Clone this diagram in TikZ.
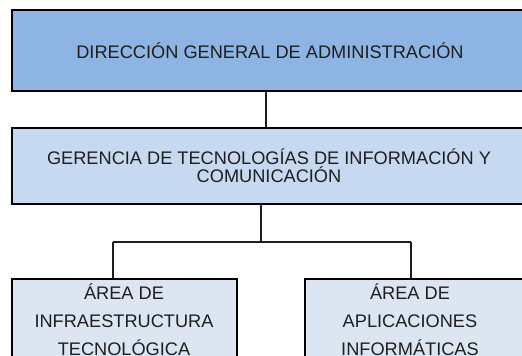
\documentclass[tikz,border=0pt]{standalone}
\usepackage{fontspec}
\setmainfont{Liberation Sans}
\definecolor{topfill}{RGB}{141,180,226}
\definecolor{midfill}{RGB}{198,217,240}
\definecolor{lowfill}{RGB}{220,230,242}
\definecolor{ink}{RGB}{30,30,30}
\tikzset{
  box/.style={draw=black, line width=2pt, rectangle, inner sep=0pt, text=ink},
  conn/.style={draw=ink, line width=1.6pt},
  txt/.style={align=center, text=ink, inner sep=0pt},
}
\begin{document}
\begin{tikzpicture}[x=1pt,y=-1pt]
\useasboundingbox (0,0) rectangle (522,356);
\clip (0,0) rectangle (522,356);
\node[box, fill=topfill, minimum width=516pt, minimum height=81pt,
      font=\fontsize{18.2}{21}\selectfont] (top) at (270,50.5)
      {DIRECCIÓN GENERAL DE ADMINISTRACIÓN};
\node[box, fill=midfill, minimum width=514pt, minimum height=76pt,
      align=center, font=\fontsize{18.2}{18.6}\selectfont] (mid) at (269,165.5)
      {GERENCIA DE TECNOLOGÍAS DE INFORMACIÓN Y\\COMUNICACIÓN};
\node[box, fill=lowfill, minimum width=225pt, minimum height=89pt] (left) at (124.5,323.5) {};
\node[box, fill=lowfill, minimum width=225pt, minimum height=89pt] (right) at (417.5,323.5) {};
\node[txt, font=\fontsize{18.2}{28.3}\selectfont] (lefttext) at (124,319.5)
      {ÁREA DE\\INFRAESTRUCTURA\\TECNOLÓGICA};
\node[txt, font=\fontsize{18.2}{28.3}\selectfont] (righttext) at (410,319.5)
      {ÁREA DE\\APLICACIONES\\INFORMÁTICAS};
\coordinate (c1) at (266,100);
\coordinate (bar) at (261,242);
\coordinate (bl) at (113,242);
\coordinate (br) at (411,242);
\draw[conn] (top.south -| c1) -- (mid.north -| c1);
\draw[conn] (mid.south -| bar) -- (bar);
\draw[conn, line width=1.3pt] (bl) -- (br);
\draw[conn] (bl) -- (bl |- left.north);
\draw[conn] (br) -- (br |- right.north);
\end{tikzpicture}
\end{document}
